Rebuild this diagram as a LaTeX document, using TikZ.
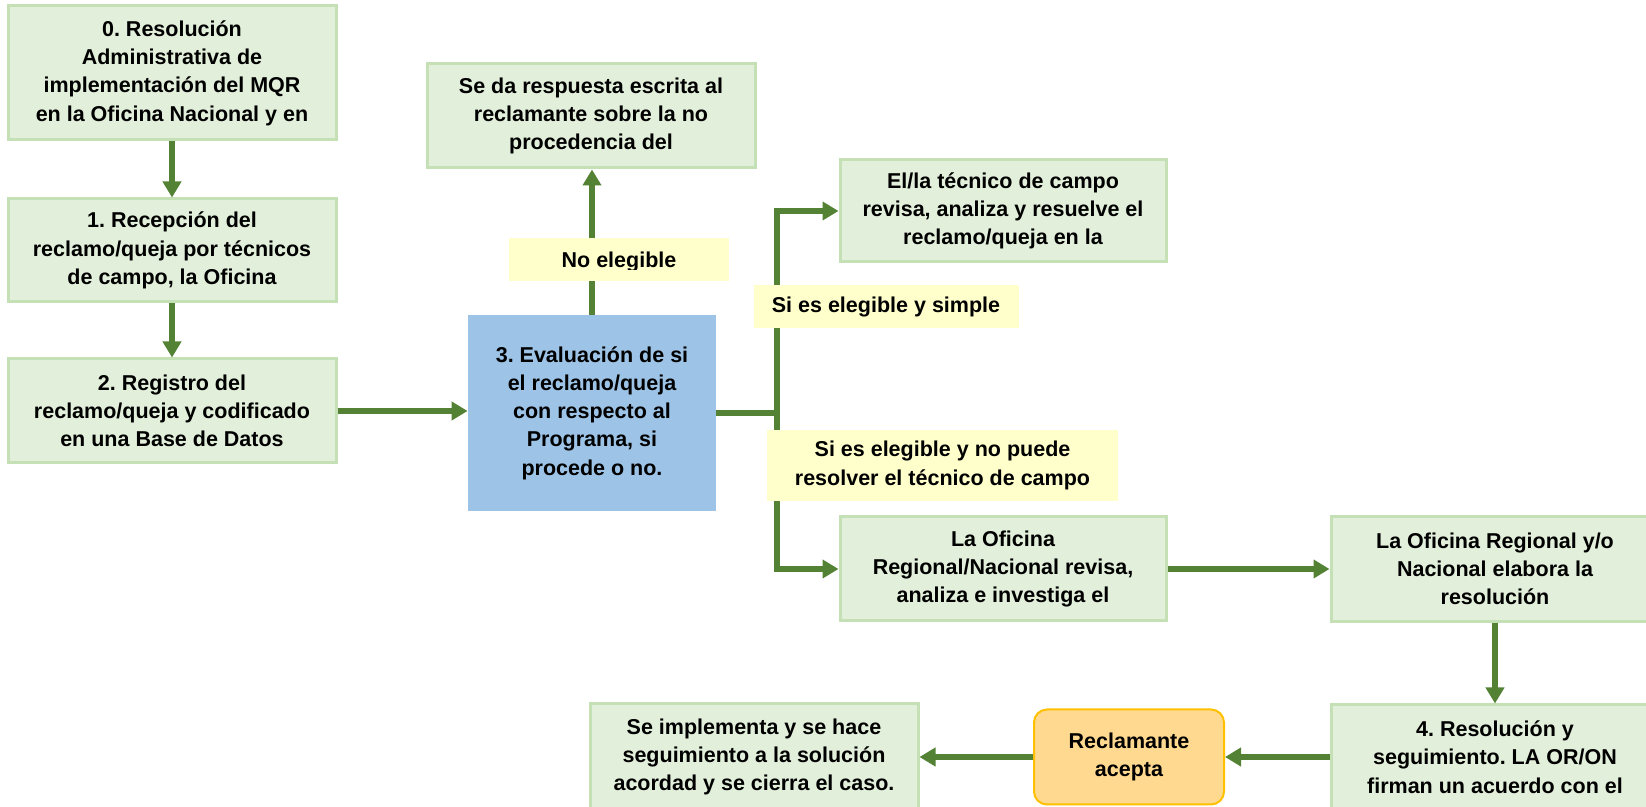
\documentclass[tikz,border=0pt]{standalone}
\usepackage{fontspec}
\setmainfont{Liberation Sans}
\usetikzlibrary{arrows.meta}
\frenchspacing
\definecolor{boxfill}{HTML}{E2EFDA}
\definecolor{boxline}{HTML}{C5E0B4}
\definecolor{bluefill}{HTML}{9DC3E6}
\definecolor{labelfill}{HTML}{FFFFCC}
\definecolor{arrowgreen}{HTML}{548235}
\definecolor{recfill}{HTML}{FFD98F}
\definecolor{recline}{HTML}{FFC000}
\begin{document}
\begin{tikzpicture}[x=0.5pt,y=-0.5pt,
  every node/.style={font=\fontsize{10.75}{14.15}\selectfont\bfseries\frenchspacing, align=center, inner sep=0pt, text=black},
  gbox/.style={draw=boxline, line width=1.5pt, fill=boxfill, minimum width=164pt},
  bbox/.style={fill=bluefill, minimum width=124pt, minimum height=98pt},
  lbl/.style={fill=labelfill},
  recbox/.style={draw=recline, line width=1pt, fill=recfill, rounded corners=6.5pt, minimum width=95pt, minimum height=47.5pt},
  arr/.style={draw=arrowgreen, line width=3pt, -{Triangle[width=9pt,length=8pt]}},
  conn/.style={draw=arrowgreen, line width=3pt}
]
\clip (0,0) rectangle (1646,807);
\fill[white] (0,0) rectangle (1646,807);

% left column
\node[gbox, minimum height=67pt] (b0) at (172,73) {0. Resolución\\Administrativa de\\implementación del MQR\\en la Oficina Nacional y en};
\node[gbox, minimum height=51.5pt] (b1) at (172,250.5) {1. Recepción del\\reclamo/queja por técnicos\\de campo, la Oficina};
\node[gbox, minimum height=52pt] (b2) at (172,411) {2. Registro del\\reclamo/queja y codificado\\en una Base de Datos};

% evaluation
\node[bbox] (b3) at (592,413) {3. Evaluación de si\\el reclamo/queja\\con respecto al\\Programa, si\\procede o no.};
\node[gbox, minimum height=52pt] (nr) at (591,116) {Se da respuesta escrita al\\reclamante sobre la no\\procedencia del};

% right branches
\node[gbox, minimum width=163pt, minimum height=51pt] (t1) at (1003,211) {El/la técnico de campo\\revisa, analiza y resuelve el\\reclamo/queja en la};
\node[gbox, minimum width=163pt, minimum height=52pt] (ro) at (1003,569) {La Oficina\\Regional/Nacional revisa,\\analiza e investiga el};
\node[gbox, minimum height=52.5pt] (rr) at (1495,569) {La Oficina Regional y/o\\Nacional elabora la\\resolución};
\node[gbox, minimum height=52pt] (b4) at (1495,757) {4. Resolución y\\seguimiento. LA OR/ON\\firman un acuerdo con el};
\node[recbox] (rec) at (1129,757) {Reclamante\\acepta};
\node[gbox, minimum height=53pt] (impl) at (754,757) {Se implementa y se hace\\seguimiento a la solución\\acordad y se cierra el caso.};

% connectors
\coordinate (br) at (777,413);
\draw[arr] (b0.south) -- (b1.north);
\draw[arr] (b1.south) -- (b2.north);
\draw[arr] (b2.east) -- (b3.west |- b2.east);
\draw[arr] (b3.north) -- (b3.north |- nr.south);
\draw[conn] (b3.east) -- (br);
\draw[arr] (br) |- (t1.west);
\draw[arr] (br) |- (ro.west);
\draw[arr] (ro.east) -- (rr.west);
\draw[arr] (rr.south) -- (b4.north);
\draw[arr] (b4.west) -- (rec.east);
\draw[arr] (rec.west) -- (impl.east);

% labels
\node[lbl, minimum width=110pt, minimum height=21.5pt] (lne) at (619,259.5) {};
\begin{scope}
\clip (509,238) rectangle (729,270);
\node[anchor=base] (lnetext) at (619,268) {No elegible};
\end{scope}
\node[lbl, minimum width=132.5pt, minimum height=21.5pt] (ls) at (886,306.5) {Si es elegible y simple};
\node[lbl, minimum width=175.5pt, minimum height=35.5pt] (lc) at (942.5,465.5) {Si es elegible y no puede\\resolver el técnico de campo};
\end{tikzpicture}
\end{document}
